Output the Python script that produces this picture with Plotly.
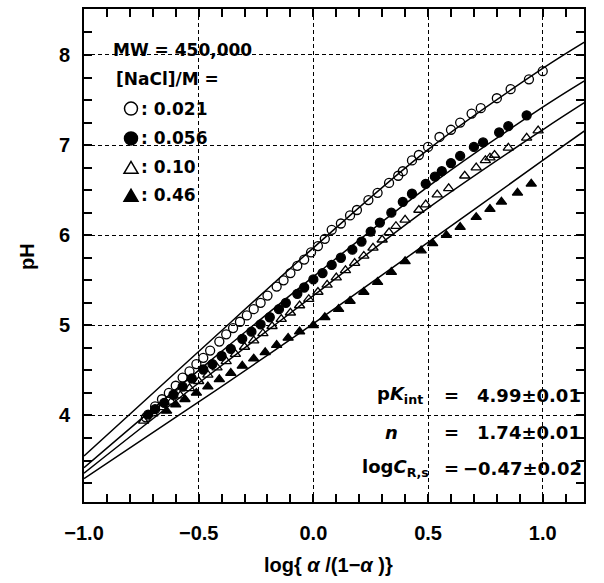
import plotly.graph_objects as go

W, H = 604, 583
L, R, T, B = 84, 20, 7, 81
X_RANGE = [-1.0, 1.18]
Y_RANGE = [3.04, 8.51]
FONT = "Liberation Sans, Arial, sans-serif"
FONT_W = "DejaVu Sans, Liberation Sans, sans-serif"

# ---- data ----
x_021 = [-0.73, -0.69, -0.66, -0.63, -0.60, -0.57, -0.54, -0.51, -0.48, -0.45, -0.41, -0.38,
         -0.35, -0.32, -0.29, -0.26, -0.23, -0.20, -0.16, -0.13, -0.10, -0.07, -0.04, -0.01,
         0.02, 0.05, 0.08, 0.12, 0.16, 0.19, 0.24, 0.28, 0.33, 0.37, 0.39, 0.43, 0.46, 0.50,
         0.55, 0.60, 0.64, 0.69, 0.73, 0.80, 0.86, 0.94, 1.00]
y_021 = [3.98, 4.10, 4.18, 4.25, 4.33, 4.42, 4.49, 4.57, 4.64, 4.72, 4.82, 4.90,
         4.97, 5.04, 5.11, 5.18, 5.25, 5.33, 5.43, 5.50, 5.58, 5.66, 5.73, 5.81,
         5.88, 5.96, 6.06, 6.13, 6.22, 6.28, 6.39, 6.47, 6.58, 6.66, 6.71, 6.83, 6.89, 6.98,
         7.09, 7.17, 7.25, 7.35, 7.41, 7.52, 7.62, 7.73, 7.82]

x_056 = [-0.72, -0.69, -0.65, -0.61, -0.57, -0.53, -0.48, -0.44, -0.40, -0.36, -0.31, -0.27,
         -0.23, -0.19, -0.15, -0.12, -0.07, -0.04, 0.00, 0.04, 0.08, 0.12, 0.17, 0.21, 0.25,
         0.29, 0.34, 0.39, 0.43, 0.49, 0.53, 0.56, 0.60, 0.64, 0.70, 0.74, 0.81, 0.85, 0.93]
y_056 = [4.01, 4.07, 4.14, 4.23, 4.32, 4.41, 4.51, 4.57, 4.66, 4.74, 4.85, 4.93,
         5.01, 5.09, 5.18, 5.25, 5.35, 5.42, 5.51, 5.58, 5.67, 5.75, 5.84, 5.93, 6.04,
         6.14, 6.25, 6.37, 6.46, 6.57, 6.65, 6.71, 6.80, 6.88, 6.98, 7.03, 7.14, 7.21, 7.33]

x_010 = [-0.74, -0.70, -0.66, -0.62, -0.58, -0.54, -0.50, -0.46, -0.42, -0.38, -0.34, -0.30,
         -0.26, -0.22, -0.18, -0.14, -0.10, -0.06, -0.02, 0.02, 0.06, 0.10, 0.14, 0.18, 0.22,
         0.26, 0.30, 0.33, 0.36, 0.40, 0.46, 0.49, 0.54, 0.59, 0.66, 0.71, 0.75, 0.77, 0.79,
         0.85, 0.93, 0.98]
y_010 = [3.94, 4.02, 4.09, 4.15, 4.22, 4.30, 4.38, 4.45, 4.53, 4.60, 4.68, 4.76,
         4.83, 4.91, 4.99, 5.07, 5.14, 5.22, 5.29, 5.37, 5.45, 5.53, 5.61, 5.69, 5.77,
         5.86, 5.95, 6.03, 6.10, 6.17, 6.28, 6.34, 6.45, 6.52, 6.66, 6.75, 6.83, 6.86, 6.89,
         6.97, 7.08, 7.16]

x_046 = [-0.64, -0.60, -0.56, -0.51, -0.46, -0.41, -0.36, -0.31, -0.26, -0.21, -0.16, -0.11,
         -0.06, 0.00, 0.05, 0.11, 0.16, 0.22, 0.28, 0.34, 0.40, 0.47, 0.52, 0.58, 0.64, 0.71,
         0.77, 0.82, 0.89, 0.95]
y_046 = [4.05, 4.12, 4.18, 4.25, 4.32, 4.40, 4.47, 4.55, 4.63, 4.70, 4.78, 4.86,
         4.93, 5.00, 5.09, 5.18, 5.27, 5.37, 5.48, 5.59, 5.71, 5.83, 5.91, 6.00, 6.09, 6.20,
         6.29, 6.37, 6.47, 6.57]

# fitted curves (read at a few abscissae)
fit_x = [-1.0, -0.5, 0.0, 0.5, 1.0, 1.2]
fit_021 = [3.55, 4.71, 5.86, 6.95, 7.85, 8.17]
fit_056 = [3.42, 4.50, 5.54, 6.54, 7.42, 7.74]
fit_010 = [3.36, 4.36, 5.33, 6.30, 7.17, 7.50]
fit_046 = [3.30, 4.15, 5.02, 5.92, 6.83, 7.19]

# tick spacing
X_MAJOR, X_MINOR = 0.5, 0.1
Y_MAJOR, Y_MINOR = 1.0, 0.25

fig = go.Figure()

for fy in [fit_021, fit_056, fit_010, fit_046]:
    fig.add_trace(go.Scatter(x=fit_x, y=fy, mode="lines",
                             line=dict(color="black", width=1.5, shape="spline"),
                             showlegend=False, hoverinfo="skip"))

series = [
    (x_021, y_021, "circle-open", 9, "0.021"),
    (x_056, y_056, "circle", 9, "0.056"),
    (x_010, y_010, "triangle-up-open", 9, "0.10"),
    (x_046, y_046, "triangle-up", 9, "0.46"),
]
for xs, ys, sym, sz, name in series:
    fig.add_trace(go.Scatter(x=xs, y=ys, mode="markers", name=name,
                             marker=dict(symbol=sym, size=sz, color="black",
                                         line=dict(color="black", width=1.3)),
                             showlegend=False))

PW, PH = W - L - R, H - T - B
def px(xp):
    return (xp - L) / PW
def py(yp):
    return (H - B - yp) / PH

def ann(text, xp, yp, xanchor="left", size=20, angle=0, family=FONT):
    fig.add_annotation(text=text, x=px(xp), y=py(yp), xref="paper", yref="paper",
                       xanchor=xanchor, yanchor="middle", showarrow=False,
                       textangle=angle,
                       font=dict(family=family, size=size, color="black"))

# legend block
ann("<b>MW = 450,000</b>", 111, 48, size=17, family=FONT_W)
ann("<b>[NaCl]/M =</b>", 114, 77, size=17, family=FONT_W)
legend_rows = [("0.021", 107), ("0.056", 137), ("0.10", 166), ("0.46", 194)]
for lab, yp in legend_rows:
    ann("<b>: " + lab + "</b>", 139, yp, size=17, family=FONT_W)

# legend symbols drawn as shapes
r = 6.5
fig.add_shape(type="circle", xref="paper", yref="paper",
              x0=px(131 - r), x1=px(131 + r), y0=py(107 + r), y1=py(107 - r),
              line=dict(color="black", width=1.5), fillcolor="white")
fig.add_shape(type="circle", xref="paper", yref="paper",
              x0=px(131 - r), x1=px(131 + r), y0=py(137 + r), y1=py(137 - r),
              line=dict(color="black", width=1.5), fillcolor="black")
def tri_path(cx, cy, w=14, h=12):
    return "M {:.5f},{:.5f} L {:.5f},{:.5f} L {:.5f},{:.5f} Z".format(
        px(cx - w / 2), py(cy + h / 2), px(cx + w / 2), py(cy + h / 2), px(cx), py(cy - h / 2))
fig.add_shape(type="path", xref="paper", yref="paper", path=tri_path(131, 166),
              line=dict(color="black", width=1.5), fillcolor="white")
fig.add_shape(type="path", xref="paper", yref="paper", path=tri_path(131, 194),
              line=dict(color="black", width=1.5), fillcolor="black")

# fit parameters
ann("<b>p<i>K</i><sub>int</sub></b>", 375, 395, size=18, family=FONT_W)
ann("<b>=</b>", 451, 395, xanchor="center", size=18, family=FONT_W)
ann("<b>4.99\u00b10.01</b>", 583, 395, xanchor="right", size=18, family=FONT_W)
ann("<b><i>n</i></b>", 383, 432, size=18, family=FONT_W)
ann("<b>=</b>", 451, 432, xanchor="center", size=18, family=FONT_W)
ann("<b>1.74\u00b10.01</b>", 583, 432, xanchor="right", size=18, family=FONT_W)
ann("<b>log<i>C</i><sub>R,s</sub></b>", 360, 468, size=18, family=FONT_W)
ann("<b>=</b>", 451, 468, xanchor="center", size=18, family=FONT_W)
ann("<b>\u22120.47\u00b10.02</b>", 584, 468, xanchor="right", size=18, family=FONT_W)

# axis titles
ann("<b>log{ <i>\u03b1</i> /(1\u2212<i>\u03b1</i> )}</b>", 328, 565, xanchor="center")
ann("<b>pH</b>", 27, 256, xanchor="center", angle=-90)

axis_common = dict(
    showline=True, linecolor="black", linewidth=2, mirror="allticks",
    ticks="inside", ticklen=8, tickwidth=2, tickcolor="black",
    showgrid=True, gridcolor="black", gridwidth=1.3, griddash="4px,3px",
    zeroline=False,
    tickfont=dict(family=FONT, size=20, color="black", weight="bold"),
)
minor_x = dict(dtick=X_MINOR, tick0=0, ticks="inside", ticklen=8, tickwidth=2,
               tickcolor="black", showgrid=False)
minor_y = dict(dtick=Y_MINOR, tick0=0, ticks="inside", ticklen=8, tickwidth=2,
               tickcolor="black", showgrid=False)

fig.update_layout(
    xaxis=dict(range=X_RANGE, tickmode="linear", tick0=0, dtick=X_MAJOR, tickformat=".1f",
               ticklabelstandoff=12, minor=minor_x, **axis_common),
    yaxis=dict(range=Y_RANGE, tickmode="linear", tick0=0, dtick=Y_MAJOR,
               ticklabelstandoff=8, minor=minor_y, **axis_common),
    width=W, height=H, margin=dict(l=L, r=R, t=T, b=B),
    paper_bgcolor="white", plot_bgcolor="white", showlegend=False,
)

fig.write_html("out.html")
